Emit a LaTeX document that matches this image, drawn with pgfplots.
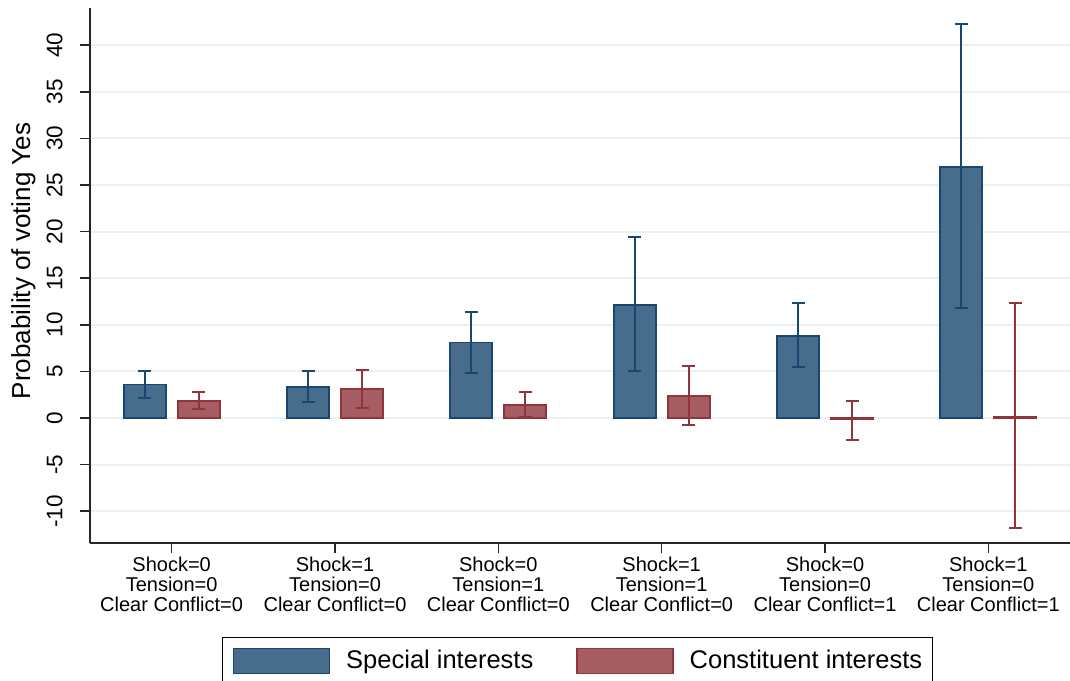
\documentclass[border=0pt]{standalone}
\usepackage{fontspec}
\setmainfont{Liberation Sans}
\usepackage{pgfplots}
\usepackage{pgfplotstable}
\pgfplotsset{compat=1.18}

\definecolor{navyline}{RGB}{26,71,111}
\definecolor{navyfill}{RGB}{72,108,140}
\definecolor{maroonline}{RGB}{144,53,59}
\definecolor{maroonfill}{RGB}{166,93,98}
\definecolor{gridc}{RGB}{234,241,243}

% x  estimate  err+  err-
\pgfplotstableread{
x y ep em
0 3.60 1.44 1.46
1 3.30 1.70 1.55
2 8.10 3.30 3.24
3 12.15 7.25 7.10
4 8.83 3.51 3.37
5 26.98 15.28 15.18
}\specialtab

\pgfplotstableread{
x y ep em
0 1.86 0.90 0.86
1 3.08 2.07 2.01
2 1.43 1.39 1.29
3 2.36 3.24 3.11
4 -0.14 2.00 2.26
5 0.17 12.13 11.91
}\constittab

\begin{document}
\begin{tikzpicture}
\begin{axis}[
    scale only axis,
    width=490pt, height=267.5pt,
    xmin=-0.5, xmax=5.5,
    ymin=-13.4, ymax=44,
    axis x line*=bottom, axis y line*=left,
    axis line style={line width=0.9pt, black!85},
    ybar, bar width=21pt,
    xtick={0,1,2,3,4,5},
    xticklabels={
        {Shock=0\\Tension=0\\Clear Conflict=0},
        {Shock=1\\Tension=0\\Clear Conflict=0},
        {Shock=0\\Tension=1\\Clear Conflict=0},
        {Shock=1\\Tension=1\\Clear Conflict=0},
        {Shock=0\\Tension=0\\Clear Conflict=1},
        {Shock=1\\Tension=0\\Clear Conflict=1}},
    xticklabel style={align=center, font=\fontsize{10}{9.85}\selectfont, inner sep=2pt},
    ytick={-10,-5,...,40},
    yticklabel style={rotate=90, anchor=south, inner sep=8.5pt, font=\fontsize{11.25}{13}\selectfont},
    /pgf/number format/assume math mode=true,
    tick align=outside, major tick length=5pt,
    tick style={black!85, line width=0.8pt},
    ymajorgrids, major grid style={gridc, line width=1pt},
    ylabel={Probability of voting Yes},
    ylabel style={at={(axis description cs:-0.068,0.527)}, anchor=center, rotate=0,
        font=\fontsize{13}{15}\selectfont},
    legend columns=2,
    legend style={at={(0.5,-0.1757)}, anchor=north, xshift=-1.25pt,
        draw=black, line width=0.6pt, inner xsep=5pt, inner ysep=5pt,
        font=\fontsize{12.75}{15}\selectfont,
        nodes={inner sep=0pt, anchor=west},
        /tikz/every odd column/.style={column sep=8pt},
        /tikz/every even column/.style={column sep=21.5pt}},
    legend image code/.code={\draw[#1, line width=0.7pt] (0pt,-6.25pt) rectangle (48pt,6.25pt);},
    error bars/y dir=both, error bars/y explicit,
    error bars/error mark=-,
]
\addplot+[bar shift=-13.5pt, fill=navyfill, draw=navyline, line width=0.9pt,
    error bars/error bar style={navyline, line width=1pt},
    error bars/error mark options={navyline, line width=1pt, mark size=3.25pt, rotate=90}]
    table[x=x, y=y, y error plus=ep, y error minus=em] {\specialtab};
\addplot+[bar shift=13.5pt, fill=maroonfill, draw=maroonline, line width=0.9pt,
    error bars/error bar style={maroonline, line width=1pt},
    error bars/error mark options={maroonline, line width=1pt, mark size=3.25pt, rotate=90}]
    table[x=x, y=y, y error plus=ep, y error minus=em] {\constittab};
\legend{Special interests, Constituent interests}
\coordinate (SW) at (rel axis cs:0,0);
\coordinate (NE) at (rel axis cs:1,1);
\end{axis}
\pgfresetboundingbox
\path[use as bounding box] ([xshift=-45pt,yshift=-69pt]SW) rectangle ([yshift=4pt]NE);
\end{tikzpicture}
\end{document}
